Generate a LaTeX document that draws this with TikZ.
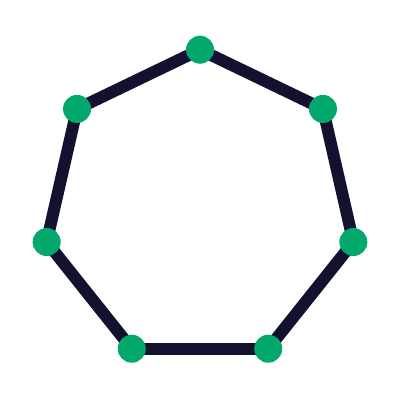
\documentclass[tikz,border=0pt]{standalone}
\usepackage{tikz}
\usetikzlibrary{backgrounds}
\definecolor{navy}{RGB}{18,18,48}
\definecolor{jade}{RGB}{2,168,108}
\begin{document}
\begin{tikzpicture}[x=0.025cm,y=-0.025cm,
  vtx/.style={circle,fill=jade,minimum size=0.7cm,inner sep=0pt},
  edge/.style={navy,line width=0.3cm}]
\useasboundingbox (0,0) rectangle (400,400);
% vertices of the heptagon
\foreach \i in {0,...,6}{
  \pgfmathsetmacro{\ang}{90-\i*360/7}
  \node[vtx] (v\i) at ({200+157.3*cos(\ang)},{207-157.3*sin(\ang)}) {};
}
% edges, behind the vertices
\begin{scope}[on background layer]
\foreach \i [evaluate=\i as \j using {int(mod(\i+1,7))}] in {0,...,6}
  \draw[edge] (v\i.center) -- (v\j.center);
\end{scope}
\end{tikzpicture}
\end{document}
